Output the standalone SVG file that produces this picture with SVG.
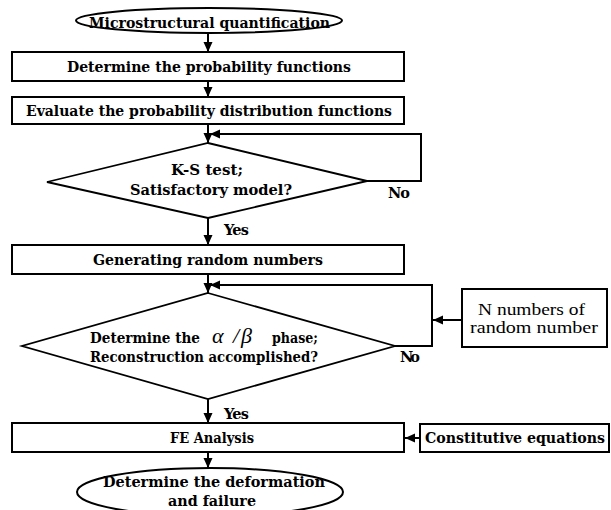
<svg xmlns="http://www.w3.org/2000/svg" width="611" height="510" viewBox="0 0 611 510">
<style>
.shape{fill:#fff;stroke:#000;stroke-width:2}
.dia{fill:#fff;stroke:#000;stroke-width:1.8}
.t{font-family:"DejaVu Serif","Liberation Serif",serif;font-weight:bold;font-size:14.5px;fill:#000}
.r{font-family:"Liberation Serif","DejaVu Serif",serif;font-size:16px;fill:#000}
.g{font-family:"Liberation Serif","DejaVu Serif",serif;font-style:italic;font-size:22px;fill:#000}
.c{fill:none;stroke:#000;stroke-width:2}
</style>
<defs>
<marker id="ah" markerUnits="userSpaceOnUse" markerWidth="11" markerHeight="10" refX="10" refY="4.5" orient="auto">
<path d="M0,0 L10,4.5 L0,9 z" fill="#000"/>
</marker>
</defs>
<rect width="611" height="510" fill="#fff"/>
<g id="connectors">
<line class="c" x1="208" y1="33" x2="208" y2="52" marker-end="url(#ah)"/>
<line class="c" x1="208" y1="81" x2="208" y2="97" marker-end="url(#ah)"/>
<line class="c" x1="208" y1="124" x2="208" y2="143" marker-end="url(#ah)"/>
<polyline class="c" points="367,181 421,181 421,134 210,134" marker-end="url(#ah)"/>
<line class="c" x1="208" y1="218" x2="208" y2="245" marker-end="url(#ah)"/>
<line class="c" x1="208" y1="274" x2="208" y2="293" marker-end="url(#ah)"/>
<polyline class="c" points="395,346 432,346 432,285 210,285" marker-end="url(#ah)"/>
<line class="c" x1="462" y1="320" x2="433" y2="320" marker-end="url(#ah)"/>
<line class="c" x1="208" y1="399" x2="208" y2="423" marker-end="url(#ah)"/>
<line class="c" x1="420" y1="438" x2="405" y2="438" marker-end="url(#ah)"/>
<line class="c" x1="208" y1="452" x2="208" y2="468" marker-end="url(#ah)"/>
<text class="t" x="388" y="198" textLength="22">No</text>
<text class="t" x="224" y="235" textLength="25">Yes</text>
<text class="t" x="400" y="362" textLength="20">No</text>
<text class="t" x="224" y="419" textLength="25">Yes</text>
</g>
<g id="start">
<ellipse class="shape" cx="209" cy="20.5" rx="133" ry="12.5"/>
<text class="t" x="209.5" y="28" text-anchor="middle" textLength="241" lengthAdjust="spacingAndGlyphs">Microstructural quantification</text>
</g>
<g id="prob-functions">
<rect class="shape" x="12" y="52" width="392" height="29"/>
<text class="t" x="209" y="72" text-anchor="middle" textLength="284" lengthAdjust="spacingAndGlyphs">Determine the probability functions</text>
</g>
<g id="pdf">
<rect class="shape" x="12" y="97" width="392" height="27"/>
<text class="t" x="209" y="116" text-anchor="middle" textLength="366" lengthAdjust="spacingAndGlyphs">Evaluate the probability distribution functions</text>
</g>
<g id="ks-test">
<polygon class="dia" points="208,143 367,181 208,218 47,182"/>
<text class="t" x="207" y="175" text-anchor="middle" textLength="72" lengthAdjust="spacingAndGlyphs">K-S test;</text>
<text class="t" x="211" y="195" text-anchor="middle" textLength="162" lengthAdjust="spacingAndGlyphs">Satisfactory model?</text>
</g>
<g id="random">
<rect class="shape" x="12" y="245" width="392" height="29"/>
<text class="t" x="208" y="265" text-anchor="middle" textLength="230" lengthAdjust="spacingAndGlyphs">Generating random numbers</text>
</g>
<g id="reconstruction">
<polygon class="dia" points="208,293 395,346 208,399 22,346"/>
<text class="t" x="90" y="343" textLength="110" lengthAdjust="spacingAndGlyphs">Determine the</text>
<text class="g" x="212" y="343">α</text>
<text class="g" x="233" y="343" font-size="18">/</text>
<text class="g" x="241" y="343">β</text>
<text class="t" x="272" y="343" textLength="46" lengthAdjust="spacingAndGlyphs">phase;</text>
<text class="t" x="90" y="362" textLength="228" lengthAdjust="spacingAndGlyphs">Reconstruction accomplished?</text>
</g>
<g id="n-numbers">
<rect class="shape" x="462" y="289" width="145" height="58"/>
<text class="r" x="531.5" y="315" text-anchor="middle" textLength="107" lengthAdjust="spacingAndGlyphs">N numbers of</text>
<text class="r" x="534" y="333" text-anchor="middle" textLength="128" lengthAdjust="spacingAndGlyphs">random number</text>
</g>
<g id="fe">
<rect class="shape" x="12" y="423" width="392" height="29"/>
<text class="t" x="212" y="443" text-anchor="middle" textLength="84" lengthAdjust="spacingAndGlyphs">FE Analysis</text>
</g>
<g id="constitutive">
<rect class="shape" x="420" y="424" width="189" height="28"/>
<text class="t" x="515" y="443" text-anchor="middle" textLength="180" lengthAdjust="spacingAndGlyphs">Constitutive equations</text>
</g>
<g id="end">
<ellipse class="shape" cx="210" cy="492" rx="133" ry="24"/>
<text class="t" x="214" y="487" text-anchor="middle" textLength="222" lengthAdjust="spacingAndGlyphs">Determine the deformation</text>
<text class="t" x="212" y="506" text-anchor="middle" textLength="88" lengthAdjust="spacingAndGlyphs">and failure</text>
</g>
</svg>
